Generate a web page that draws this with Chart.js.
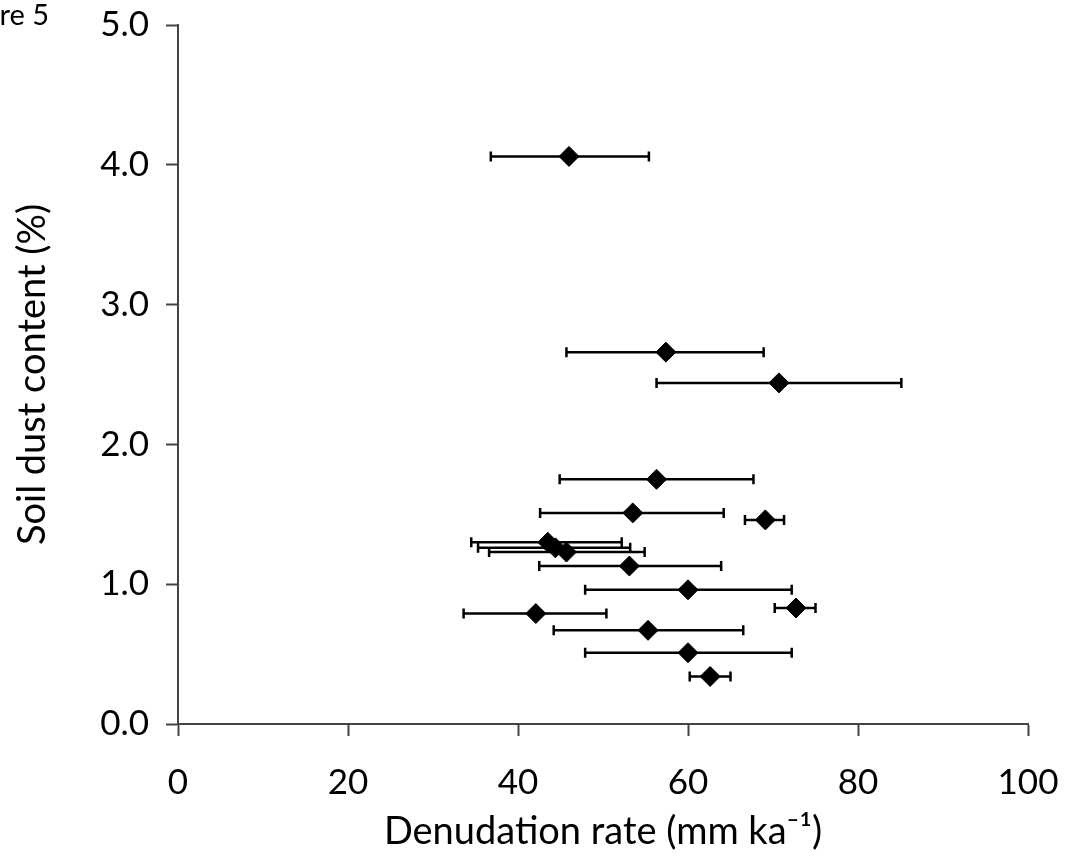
<!DOCTYPE html>
<html>
<head>
<meta charset="utf-8">
<script src="https://cdn.jsdelivr.net/npm/chart.js@4/dist/chart.umd.min.js"></script>
<style>
  html, body { margin: 0; padding: 0; background: #fff; overflow: hidden; }
  #wrap { position: relative; width: 1066px; height: 859px; }
  #fig { position: absolute; top: -4px; right: calc(100% - 49px); font: 29px Lato, sans-serif; color: #000; white-space: nowrap; }
</style>
</head>
<body>
<div id="wrap">
  <canvas id="dustChart" width="1066" height="859"></canvas>
  <div id="fig">Figure 5</div>
</div>
<script>
// denudation rate (mm/ka) with error range, soil dust content (%)
var denudation = [46.0, 57.4, 70.7, 56.3, 53.5, 69.1, 43.5, 44.4, 45.7, 53.1, 60.0, 72.7, 42.1, 55.3, 60.0, 62.6];
var denudLow   = [36.8, 45.7, 56.3, 44.9, 42.6, 66.7, 34.5, 35.3, 36.6, 42.5, 47.9, 70.2, 33.6, 44.2, 47.9, 60.2];
var denudHigh  = [55.4, 68.9, 85.1, 67.7, 64.2, 71.3, 52.2, 53.2, 54.9, 63.9, 72.2, 75.0, 50.4, 66.5, 72.2, 65.0];
var dust       = [4.06, 2.66, 2.44, 1.75, 1.51, 1.46, 1.30, 1.26, 1.23, 1.13, 0.96, 0.83, 0.79, 0.67, 0.51, 0.34];
var xTicks = [0, 20, 40, 60, 80, 100];
var yTicks = [0, 1, 2, 3, 4, 5];

var points = [];
for (var i = 0; i < dust.length; i++) {
    points.push({x: denudation[i], y: dust[i]});
}

// horizontal error bars, drawn under the markers
var errorBars = {
    id: 'errorBars',
    beforeDatasetsDraw: function(chart) {
        var c = chart.ctx, xs = chart.scales.x, ys = chart.scales.y;
        c.save();
        c.strokeStyle = '#000';
        c.lineWidth = 2.5;
        for (var i = 0; i < dust.length; i++) {
            var y = ys.getPixelForValue(dust[i]);
            var x1 = xs.getPixelForValue(denudLow[i]);
            var x2 = xs.getPixelForValue(denudHigh[i]);
            c.beginPath();
            c.moveTo(x1, y); c.lineTo(x2, y);
            c.moveTo(x1, y - 5); c.lineTo(x1, y + 5);
            c.moveTo(x2, y - 5); c.lineTo(x2, y + 5);
            c.stroke();
        }
        c.restore();
    }
};

var tickFont = {family: 'Lato, sans-serif', size: 35, lineHeight: 1};
var titleFont = {family: 'Lato, sans-serif', size: 38};

new Chart(document.getElementById('dustChart'), {
    type: 'scatter',
    data: {
        datasets: [{
            data: points,
            pointStyle: 'rectRot',
            pointRadius: 10,
            pointHoverRadius: 10,
            backgroundColor: '#000',
            borderColor: '#000',
            borderWidth: 1
        }]
    },
    options: {
        responsive: false,
        animation: false,
        plugins: {legend: {display: false}, tooltip: {enabled: false}},
        layout: {padding: {top: 25, right: 38, left: 0, bottom: 0}},
        scales: {
            x: {
                type: 'linear', min: 0, max: 100,
                afterBuildTicks: function(s) { s.ticks = xTicks.map(function(v) { return {value: v}; }); },
                afterFit: function(s) { s.height = 135; s.paddingLeft = 0; s.paddingRight = 0; },
                border: {color: '#444', width: 2},
                grid: {drawOnChartArea: false, tickLength: 12, color: '#444', tickWidth: 2},
                ticks: {color: '#000', font: tickFont, padding: 29},
                title: {display: true, text: 'Denudation rate (mm ka⁻¹)', color: '#000', font: titleFont, padding: {top: 0, bottom: 4}}
            },
            y: {
                type: 'linear', min: 0, max: 5,
                afterBuildTicks: function(s) { s.ticks = yTicks.map(function(v) { return {value: v}; }); },
                afterFit: function(s) { s.width = 178; s.paddingTop = 0; s.paddingBottom = 0; },
                border: {color: '#444', width: 2},
                grid: {drawOnChartArea: false, tickLength: 12, color: '#444', tickWidth: 2},
                ticks: {color: '#000', font: tickFont, padding: 17, callback: function(v) { return Number(v).toFixed(1); }},
                title: {display: true, text: 'Soil dust content (%)', color: '#000', font: titleFont, padding: {top: 10, bottom: 0}}
            }
        }
    },
    plugins: [errorBars]
});
</script>
</body>
</html>
